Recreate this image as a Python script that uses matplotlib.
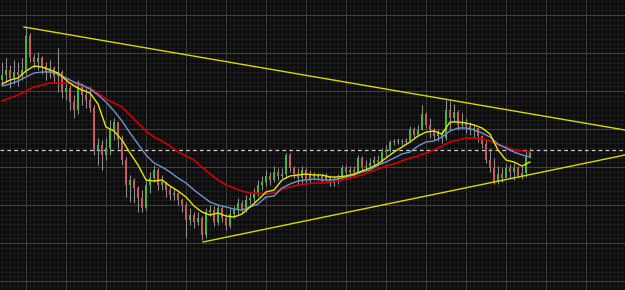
import numpy as np
import matplotlib
matplotlib.use("Agg")
import matplotlib.pyplot as plt


# candle data (price units), one bar per session
first_open = 210

close = [215, 220, 212, 218, 215, 220, 254, 233, 228, 232,
         224, 218, 222, 214, 218, 198, 202, 188, 180, 205,
         195, 190, 182, 140, 145, 135, 142, 160, 168, 150,
         130, 105, 110, 102, 92, 82, 105, 112, 120, 105,
         108, 100, 95, 97, 90, 85, 70, 75, 68, 72,
         55, 78, 80, 68, 82, 72, 64, 76, 80, 87,
         80, 90, 92, 96, 105, 108, 114, 110, 118, 114,
         116, 135, 122, 116, 112, 120, 110, 116, 113, 114,
         111, 114, 107, 110, 112, 122, 118, 120, 118, 132,
         123, 124, 127, 130, 128, 138, 140, 148, 148, 149,
         148, 149, 161, 155, 160, 176, 165, 160, 154, 157,
         152, 180, 172, 178, 165, 166, 164, 160, 162, 154,
         146, 130, 122, 108, 116, 112, 122, 118, 122, 114,
         117, 133, 138]

high = [228, 232, 225, 230, 228, 232, 263, 257, 236, 238,
        234, 228, 230, 224, 242, 220, 212, 205, 195, 210,
        207, 202, 204, 185, 152, 150, 152, 170, 172, 168,
        155, 133, 115, 112, 104, 100, 110, 118, 125, 122,
        115, 108, 104, 102, 98, 92, 88, 82, 78, 78,
        74, 82, 85, 84, 85, 84, 76, 82, 84, 92,
        90, 95, 98, 102, 110, 114, 120, 118, 124, 122,
        122, 137, 137, 124, 122, 124, 122, 120, 118, 117,
        116, 117, 115, 114, 116, 125, 125, 124, 124, 135,
        134, 130, 132, 134, 135, 142, 145, 150, 151, 152,
        151, 152, 164, 163, 165, 185, 178, 172, 162, 161,
        160, 190, 189, 186, 180, 177, 172, 168, 166, 162,
        155, 150, 142, 132, 124, 122, 126, 126, 127, 124,
        125, 140, 142]

low = [205, 208, 202, 206, 204, 210, 215, 228, 222, 220,
       216, 210, 212, 208, 198, 192, 190, 180, 172, 176,
       185, 182, 178, 135, 125, 120, 130, 135, 150, 142,
       125, 93, 88, 87, 78, 78, 80, 97, 108, 100,
       100, 93, 90, 90, 85, 78, 52, 65, 62, 65,
       50, 52, 74, 64, 65, 68, 60, 62, 72, 76,
       77, 78, 86, 88, 94, 100, 104, 105, 108, 110,
       112, 112, 118, 112, 105, 107, 106, 107, 110, 110,
       108, 109, 104, 104, 106, 110, 112, 114, 113, 117,
       120, 120, 122, 124, 124, 126, 133, 138, 145, 146,
       145, 146, 148, 152, 154, 160, 162, 152, 150, 149,
       147, 150, 160, 168, 160, 162, 157, 155, 152, 148,
       142, 127, 118, 106, 106, 108, 114, 112, 110, 112,
       111, 113, 132]

# moving averages, read every second bar
ma_fast = [206, 210, 212, 219, 224, 223, 220, 217, 210, 204,
           200, 197, 186, 163, 159, 150, 137, 125, 110, 109,
           110, 104, 99, 93, 84, 78, 75, 77, 74, 73,
           76, 83, 90, 98, 100, 110, 114, 115, 116, 115,
           115, 113, 113, 114, 116, 119, 122, 126, 132, 138,
           143, 148, 154, 158, 159, 156, 168, 168, 167, 165,
           162, 156, 140, 130, 128, 124, 128]

ma_mid = [204, 206, 209, 213, 217, 218, 218, 216, 212, 208,
          205, 201, 195, 188, 179, 169, 157, 146, 135, 127,
          123, 118, 112, 107, 100, 94, 88, 85, 83, 81,
          80, 83, 86, 93, 94, 102, 106, 109, 110, 111,
          110, 110, 111, 113, 115, 118, 120, 125, 128, 132,
          136, 138, 144, 148, 149, 153, 159, 162, 162, 160,
          157, 153, 146, 142, 138, 135, 133]

ma_slow = [189, 192, 195, 199, 203, 205, 207, 207, 207, 206,
           204, 202, 197, 191, 187, 183, 175, 167, 159, 153,
           149, 144, 138, 134, 130, 123, 116, 110, 105, 102,
           99, 97, 97, 96, 97, 101, 103, 105, 106, 107,
           107, 108, 109, 111, 113, 115, 118, 121, 124, 126,
           129, 132, 134, 137, 140, 144, 148, 150, 152, 152,
           151, 149, 145, 143, 140, 139, 138]

# trend lines (bar index, price) and the current price level
upper_x = [5.5, 155.75]
upper_y = [263, 160]
lower_x = [50.25, 155.75]
lower_y = [48, 135]
level = 140


n = len(close)
idx = np.arange(n)
opens = np.array([first_open] + close[:-1])
close = np.array(close)
high = np.array(high)
low = np.array(low)
ma_idx = np.arange(0, n, 2)

fig = plt.figure(figsize=(6.25, 2.9), dpi=100)
fig.patch.set_facecolor('#0b0b0b')
ax = fig.add_axes([0, 0, 1, 1])
ax.set_facecolor('#0b0b0b')

# grid: major every 10 bars / 38 price units, fine mesh in between
ax.set_xticks(np.arange(6, 160, 10))
ax.set_xticks(np.arange(-4, 160, 1), minor=True)
ax.set_yticks(np.arange(9, 290, 38))
ax.set_yticks(np.arange(9 - 38, 300, 4.75), minor=True)
ax.grid(which='minor', color='#1f1f1f', linewidth=0.6)
ax.grid(which='major', color='#404040', linewidth=0.8)
ax.set_axisbelow(True)
ax.tick_params(which='both', length=0, labelbottom=False, labelleft=False)
for s in ax.spines.values():
    s.set_visible(False)
ax.set_xlim(-0.5, 155.75)
ax.set_ylim(0, 290)

# candles
up = close >= opens
ax.vlines(idx, low, high, color='#8f8f8f', linewidth=0.8, zorder=3)
body_lo = np.minimum(opens, close)
body_h = np.maximum(np.abs(close - opens), 1.0)
ax.bar(idx[up], body_h[up], bottom=body_lo[up], width=0.7,
       color='#46b446', zorder=4)
ax.bar(idx[~up], body_h[~up], bottom=body_lo[~up], width=0.7,
       color='#c85a5e', zorder=4)

# moving averages
ax.plot(ma_idx, ma_slow, color='#d00000', linewidth=1.2, zorder=5)
ax.plot(ma_idx, ma_mid, color='#6e93cf', linewidth=1.0, zorder=5)
ax.plot(ma_idx, ma_fast, color='#e6e600', linewidth=1.0, zorder=6)

# trend lines and level
ax.plot(upper_x, upper_y, color='#d9d900', linewidth=1.0, zorder=7)
ax.plot(lower_x, lower_y, color='#d9d900', linewidth=1.0, zorder=7)
ax.axhline(level, color='#cfcfcf', linewidth=0.9, dashes=(3, 2.5), zorder=2)

fig.savefig('out.png', dpi=100, facecolor=fig.get_facecolor())
